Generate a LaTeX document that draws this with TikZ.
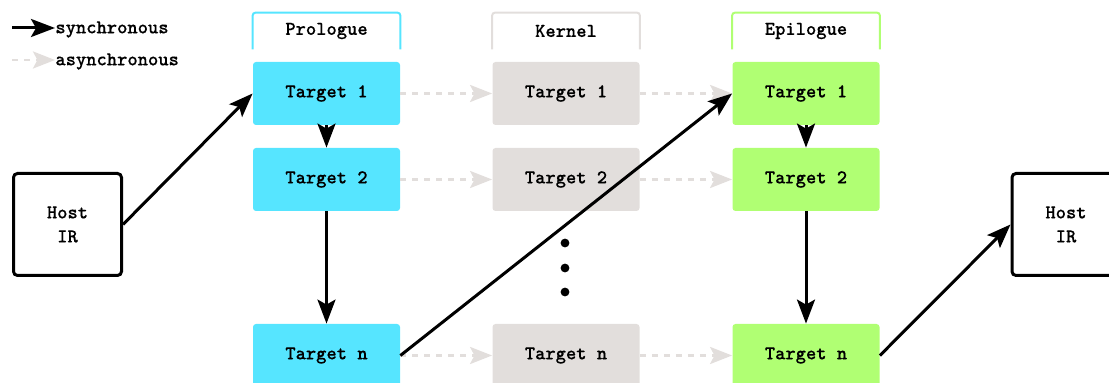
\documentclass[tikz,border=0pt]{standalone}
\usepackage{fontspec}
\setmonofont{lmmono10-regular.otf}[BoldFont=lmmonolt10-bold.otf, BoldFeatures={FakeBold=0.25}]
\usetikzlibrary{arrows.meta}
\definecolor{pcyan}{HTML}{56E5FF}
\definecolor{kgray}{HTML}{E2DEDC}
\definecolor{egreen}{HTML}{B0FF73}
\tikzset{
  tbox/.style={rounded corners=1.5pt, minimum width=73.5pt, minimum height=31.5pt, inner sep=0pt, font=\ttfamily\bfseries\fontsize{9.8}{12}\selectfont},
  hdr/.style={minimum width=73.5pt, minimum height=18pt, inner sep=0pt, font=\ttfamily\bfseries\fontsize{9.8}{12}\selectfont},
  hostbox/.style={draw=black, line width=1.5pt, rounded corners=2pt, minimum width=54pt, minimum height=51pt, inner sep=0pt, align=center, font=\ttfamily\bfseries\fontsize{9.8}{12}\selectfont},
  sync/.style={draw=black, line width=1.5pt, -{Stealth[length=12pt,width=9pt,inset=2.5pt]}},
  async/.style={draw=kgray, line width=1.4pt, dash pattern=on 3pt off 3pt, -{Stealth[length=11pt,width=8.5pt,inset=2.2pt]}},
  legtext/.style={anchor=west, inner sep=0pt, font=\ttfamily\bfseries\fontsize{9.8}{12}\selectfont},
}
\begin{document}
\begin{tikzpicture}[x=0.5pt,y=-0.5pt]
\useasboundingbox (0,0) rectangle (1109,383);
% headers
\node[hdr] (hp) at (326.5,31) {\raisebox{-1pt}{Prologue}};
\node[hdr] (hk) at (566,31) {\raisebox{-1pt}{Kernel}};
\node[hdr] (he) at (806,31) {\raisebox{-1pt}{Epilogue}};
\draw[pcyan, line width=1pt, rounded corners=1.5pt] (hp.south west) -- (hp.north west) -- (hp.north east) -- (hp.south east);
\draw[kgray, line width=1pt, rounded corners=1.5pt] (hk.south west) -- (hk.north west) -- (hk.north east) -- (hk.south east);
\draw[egreen, line width=1pt, rounded corners=1.5pt] (he.south west) -- (he.north west) -- (he.north east) -- (he.south east);
% boxes
\node[tbox, fill=pcyan] (p1) at (326.5,93.5) {Target 1};
\node[tbox, fill=pcyan] (p2) at (326.5,179.5) {Target 2};
\node[tbox, fill=pcyan] (pn) at (326.5,355.5) {Target n};
\node[tbox, fill=kgray] (k1) at (566,93.5) {Target 1};
\node[tbox, fill=kgray] (k2) at (566,179.5) {Target 2};
\node[tbox, fill=kgray] (kn) at (566,355.5) {Target n};
\node[tbox, fill=egreen] (e1) at (806,93.5) {Target 1};
\node[tbox, fill=egreen] (e2) at (806,179.5) {Target 2};
\node[tbox, fill=egreen] (en) at (806,355.5) {Target n};
% hosts
\node[hostbox] (hl) at (67.5,224.5) {Host\\IR};
\node[hostbox] (hr) at (1066,224.5) {Host\\IR};
% dots
\fill (565,243) circle (2.2pt);
\fill (565,268) circle (2.2pt);
\fill (565,292) circle (2.2pt);
% async
\draw[async] (p1) -- (k1);
\draw[async] (k1) -- (e1);
\draw[async] (p2) -- (k2);
\draw[async] (k2) -- (e2);
\draw[async] (pn) -- (kn);
\draw[async] (kn) -- (en);
% sync
\draw[sync] (hl.east) -- (p1.west);
\draw[sync] (p1) -- (p2);
\draw[sync] (p2) -- (pn);
\draw[sync] (pn.east) -- (e1.west);
\draw[sync] (e1) -- (e2);
\draw[sync] (e2) -- (en);
\draw[sync] (en.east) -- (hr.west);
% legend
\coordinate (ls1) at (12,28);
\coordinate (ls2) at (12,60);
\node[legtext] (lt1) at (55,29.5) {synchronous};
\node[legtext] (lt2) at (55,61.5) {asynchronous};
\draw[sync] (ls1) -- (lt1.west |- ls1);
\draw[async] (ls2) -- (lt2.west |- ls2);
\end{tikzpicture}
\end{document}
